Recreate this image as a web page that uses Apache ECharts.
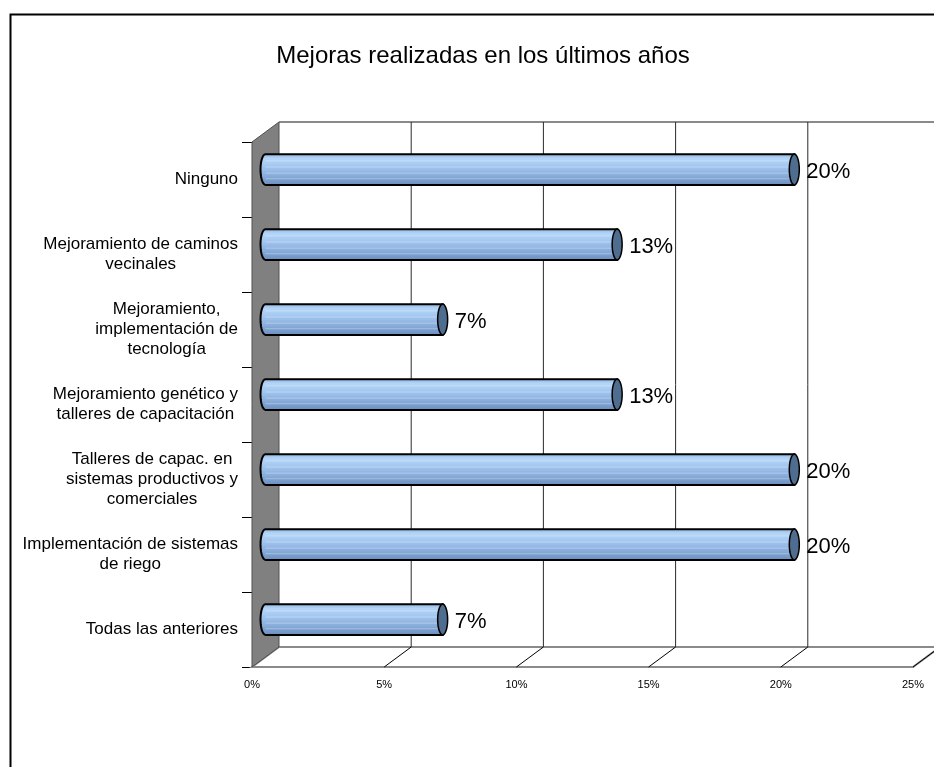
<!DOCTYPE html>
<html>
<head>
<meta charset="utf-8">
<script src="https://cdn.jsdelivr.net/npm/echarts@6/dist/echarts.min.js"></script>
<style>
  html, body { margin: 0; padding: 0; background: #fff; }
  #chart { width: 934px; height: 767px; }
</style>
</head>
<body>
<div id="chart"></div>
<script>
// Categories (top to bottom) and their share of answers, in percent
const categories = [
  'Ninguno',
  'Mejoramiento de caminos\nvecinales',
  'Mejoramiento,\nimplementación de\ntecnología',
  'Mejoramiento genético y\ntalleres de capacitación',
  'Talleres de capac. en\nsistemas productivos y\ncomerciales',
  'Implementación de sistemas\nde riego',
  'Todas las anteriores'
];
const shares = [20, 13.3, 6.7, 13.3, 20, 20, 6.7];

// Value axis range and step (percent)
const axisMin = 0;
const axisMax = 25;
const axisStep = 5;

const titleText = 'Mejoras realizadas en los últimos años';

// 3D look: offset from the front plane to the back wall
const DEPTH_X = 27;
const DEPTH_Y = -20;
const BAR_RATIO = 0.41;
const FONT = '"Liberation Sans", Arial, sans-serif';

const chart = echarts.init(document.getElementById('chart'));

// Walls, floor and back-wall grid lines of the 3D frame
function renderFrame(params, api) {
  const cs = params.coordSys;
  const gx = cs.x, gy = cs.y, gw = cs.width, gh = cs.height;
  const children = [];
  // floor
  children.push({
    type: 'polygon',
    shape: { points: [[gx, gy + gh], [gx + DEPTH_X, gy + gh + DEPTH_Y], [gx + gw + DEPTH_X, gy + gh + DEPTH_Y], [gx + gw, gy + gh]] },
    style: { fill: '#ffffff', stroke: '#8a8a8a', lineWidth: 2 }
  });
  // back-wall top edge
  children.push({
    type: 'line',
    shape: { x1: gx + DEPTH_X, y1: gy + DEPTH_Y, x2: gx + gw + DEPTH_X, y2: gy + DEPTH_Y },
    style: { stroke: '#8a8a8a', lineWidth: 2 }
  });
  for (let t = axisMin + axisStep; t <= axisMax; t += axisStep) {
    const tx = api.coord([t, 0])[0];
    // floor diagonal
    children.push({
      type: 'line',
      shape: { x1: tx, y1: gy + gh, x2: tx + DEPTH_X, y2: gy + gh + DEPTH_Y },
      style: { stroke: '#000', lineWidth: 1 }
    });
    if (t < axisMax) {
      // vertical grid line on the back wall
      children.push({
        type: 'line',
        shape: { x1: tx + DEPTH_X, y1: gy + DEPTH_Y, x2: tx + DEPTH_X, y2: gy + gh + DEPTH_Y },
        style: { stroke: '#2a2a2a', lineWidth: 1 }
      });
    }
  }
  // left side wall
  children.push({
    type: 'polygon',
    shape: { points: [[gx, gy], [gx + DEPTH_X, gy + DEPTH_Y], [gx + DEPTH_X, gy + gh + DEPTH_Y], [gx, gy + gh]] },
    style: { fill: '#808080', stroke: '#505050', lineWidth: 1 }
  });
  return { type: 'group', children: children };
}

// One horizontal cylinder per category, with its value label
function renderBar(params, api) {
  const v = api.value(0);
  const ci = api.value(1);
  const start = api.coord([0, ci]);
  const end = api.coord([v, ci]);
  const band = api.size([0, 1])[1];
  const h = band * BAR_RATIO;
  const ry = h / 2;
  const rx = 5;
  const yc = start[1] + DEPTH_Y / 2;
  const x0 = start[0] + DEPTH_X / 2;
  const x1 = end[0] + DEPTH_X / 2;

  const body = [];
  for (let k = 0; k <= 20; k++) {
    const a = Math.PI / 2 + Math.PI * k / 20;
    body.push([x0 + rx * Math.cos(a), yc + ry * Math.sin(a)]);
  }
  body.push([x1, yc - ry], [x1, yc + ry]);

  const cap = [];
  for (let k = 0; k < 40; k++) {
    const a = 2 * Math.PI * k / 40;
    cap.push([x1 + rx * Math.cos(a), yc + ry * Math.sin(a)]);
  }

  const children = [{
    type: 'polygon',
    shape: { points: body },
    style: {
      fill: {
        type: 'linear', x: 0, y: 0, x2: 0, y2: 1,
        colorStops: [
          { offset: 0, color: '#93b9e5' },
          { offset: 0.15, color: '#b5d6f8' },
          { offset: 0.4, color: '#a2c6ef' },
          { offset: 0.7, color: '#88addb' },
          { offset: 1, color: '#6b8fbf' }
        ]
      },
      stroke: 'none'
    }
  }];
  [0.22, 0.42, 0.62, 0.8].forEach(function (f) {
    children.push({
      type: 'line',
      shape: { x1: x0, y1: yc - ry + h * f, x2: x1, y2: yc - ry + h * f },
      style: { stroke: 'rgba(255,255,255,0.3)', lineWidth: 1 }
    });
  });
  children.push({
    type: 'polygon',
    shape: { points: body },
    style: { fill: 'none', stroke: '#000', lineWidth: 2 }
  });
  children.push({
    type: 'polygon',
    shape: { points: cap },
    style: { fill: '#4e6d8f', stroke: '#000', lineWidth: 1.5 }
  });
  children.push({
    type: 'text',
    x: x1 + rx + 7,
    y: yc + 2,
    style: {
      text: Math.round(v) + '%',
      fontSize: 22,
      fontFamily: FONT,
      fill: '#000',
      align: 'left',
      verticalAlign: 'middle'
    }
  });
  return { type: 'group', children: children };
}

const option = {
  backgroundColor: '#ffffff',
  animation: false,
  title: {
    text: titleText,
    left: 478,
    top: 39,
    textAlign: 'center',
    textStyle: { fontSize: 24, fontWeight: 'normal', fontFamily: FONT, color: '#000' }
  },
  graphic: [{
    type: 'rect',
    shape: { x: 10.5, y: 14.5, width: 960, height: 800 },
    style: { fill: 'none', stroke: '#000', lineWidth: 2 },
    silent: true
  }],
  grid: { left: 252, top: 142, width: 661, height: 525, containLabel: false },
  xAxis: {
    type: 'value',
    min: axisMin,
    max: axisMax,
    interval: axisStep,
    axisLine: { show: true, lineStyle: { color: '#222', width: 1.5 } },
    axisTick: { show: false },
    splitLine: { show: false },
    axisLabel: {
      formatter: '{value}%',
      fontSize: 11,
      fontFamily: FONT,
      color: '#000',
      margin: 12
    }
  },
  yAxis: {
    type: 'category',
    inverse: true,
    data: categories,
    axisLine: { show: true, lineStyle: { color: '#000', width: 1 } },
    axisTick: { show: true, length: 10, lineStyle: { color: '#000' } },
    splitLine: { show: false },
    axisLabel: {
      margin: 14,
      align: 'right',
      formatter: function (value) {
        return value.split('\n').map(function (s) { return '{c|' + s + '}'; }).join('\n');
      },
      rich: {
        c: { align: 'center', fontSize: 17, lineHeight: 20, fontFamily: FONT, color: '#000' }
      }
    }
  },
  series: [
    {
      type: 'custom',
      renderItem: renderFrame,
      data: [[0, 0]],
      clip: false,
      silent: true,
      z: 1
    },
    {
      type: 'custom',
      renderItem: renderBar,
      data: shares.map(function (v, i) { return [v, i]; }),
      encode: { x: 0, y: 1 },
      clip: false,
      silent: true,
      z: 3
    }
  ]
};

chart.setOption(option);
</script>
</body>
</html>
